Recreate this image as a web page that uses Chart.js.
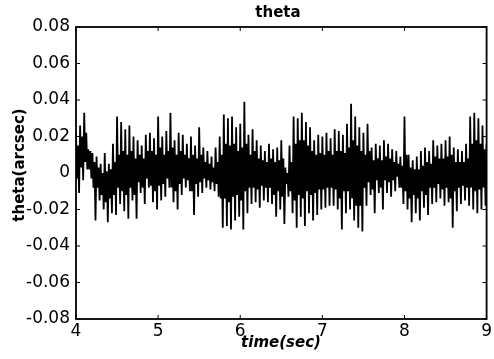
<!DOCTYPE html>
<html>
<head>
<meta charset="utf-8">
<script src="https://cdn.jsdelivr.net/npm/chart.js@4/dist/chart.umd.min.js"></script>
<style>
  body { margin: 0; background: #fff; }
  canvas { display: block; }
</style>
</head>
<body>
<canvas id="thetaChart" width="494" height="359"></canvas>
<script>
// time axis: samples every 0.05 s from 4 to 9 s
var tStart = 4;
var tStep = 0.05;
// outer swing of theta (arcsec) in each 0.05 s slot
var thetaHigh = [
  0.022, 0.026, 0.033, 0.013, 0.011, 0.009, 0.005, 0.011, 0.005, 0.016,
  0.031, 0.028, 0.024, 0.026, 0.020, 0.018, 0.015, 0.021, 0.022, 0.019,
  0.031, 0.020, 0.023, 0.033, 0.018, 0.022, 0.021, 0.016, 0.020, 0.015,
  0.025, 0.014, 0.012, 0.009, 0.014, 0.020, 0.032, 0.030, 0.031, 0.025,
  0.027, 0.039, 0.021, 0.024, 0.018, 0.015, 0.012, 0.016, 0.013, 0.014,
  0.018, 0.003, 0.015, 0.031, 0.030, 0.033, 0.028, 0.025, 0.018, 0.021,
  0.020, 0.022, 0.019, 0.024, 0.023, 0.021, 0.027, 0.038, 0.031, 0.025,
  0.022, 0.027, 0.014, 0.016, 0.015, 0.018, 0.016, 0.013, 0.012, 0.009,
  0.031, 0.010, 0.007, 0.009, 0.012, 0.014, 0.012, 0.018, 0.015, 0.016,
  0.018, 0.020, 0.014, 0.013, 0.012, 0.016, 0.031, 0.033, 0.030, 0.026,
  0.016
];
var thetaLow = [
  -0.011, -0.004, 0.002, -0.003, -0.026, -0.015, -0.020, -0.027, -0.022, -0.023,
  -0.017, -0.021, -0.025, -0.015, -0.025, -0.011, -0.017, -0.008, -0.016, -0.020,
  -0.015, -0.013, -0.008, -0.016, -0.020, -0.012, -0.008, -0.010, -0.023, -0.013,
  -0.011, -0.008, -0.009, -0.010, -0.013, -0.030, -0.029, -0.031, -0.026, -0.024,
  -0.031, -0.022, -0.017, -0.016, -0.019, -0.015, -0.016, -0.017, -0.024, -0.020,
  -0.028, -0.013, -0.022, -0.030, -0.024, -0.029, -0.022, -0.026, -0.023, -0.020,
  -0.019, -0.018, -0.018, -0.020, -0.031, -0.022, -0.020, -0.026, -0.030, -0.032,
  -0.018, -0.012, -0.022, -0.011, -0.020, -0.011, -0.013, -0.010, -0.008, -0.017,
  -0.020, -0.027, -0.022, -0.026, -0.019, -0.023, -0.017, -0.016, -0.014, -0.018,
  -0.016, -0.030, -0.021, -0.017, -0.015, -0.018, -0.020, -0.022, -0.020, -0.018,
  -0.026
];
// edges of the dense black core in each slot
var coreHigh = [
  0.015, 0.020, 0.022, 0.012, 0.006, 0.003, 0.000, 0.001, 0.002, 0.006,
  0.010, 0.012, 0.010, 0.012, 0.008, 0.010, 0.008, 0.012, 0.012, 0.010,
  0.014, 0.010, 0.012, 0.014, 0.010, 0.012, 0.010, 0.008, 0.010, 0.008,
  0.010, 0.006, 0.005, 0.003, 0.006, 0.010, 0.016, 0.015, 0.016, 0.012,
  0.014, 0.016, 0.010, 0.012, 0.008, 0.007, 0.006, 0.008, 0.006, 0.007,
  0.008, 0.000, 0.006, 0.016, 0.018, 0.018, 0.015, 0.012, 0.010, 0.011,
  0.010, 0.012, 0.010, 0.012, 0.012, 0.011, 0.014, 0.018, 0.015, 0.012,
  0.010, 0.012, 0.007, 0.008, 0.007, 0.009, 0.008, 0.006, 0.005, 0.004,
  0.010, 0.003, 0.002, 0.002, 0.004, 0.006, 0.005, 0.009, 0.008, 0.008,
  0.009, 0.010, 0.006, 0.006, 0.006, 0.008, 0.016, 0.018, 0.016, 0.013,
  0.008
];
var coreLow = [
  -0.003, 0.003, 0.006, 0.002, -0.008, -0.008, -0.012, -0.016, -0.014, -0.012,
  -0.008, -0.010, -0.012, -0.008, -0.012, -0.005, -0.008, -0.003, -0.007, -0.010,
  -0.007, -0.006, -0.003, -0.008, -0.010, -0.006, -0.003, -0.004, -0.010, -0.006,
  -0.005, -0.003, -0.004, -0.005, -0.006, -0.014, -0.014, -0.016, -0.013, -0.012,
  -0.015, -0.010, -0.008, -0.008, -0.009, -0.007, -0.008, -0.008, -0.012, -0.010,
  -0.013, -0.006, -0.010, -0.015, -0.012, -0.014, -0.010, -0.012, -0.011, -0.009,
  -0.009, -0.008, -0.008, -0.009, -0.014, -0.010, -0.010, -0.014, -0.018, -0.018,
  -0.008, -0.005, -0.009, -0.004, -0.008, -0.004, -0.005, -0.004, -0.002, -0.008,
  -0.010, -0.014, -0.012, -0.014, -0.010, -0.012, -0.008, -0.008, -0.006, -0.009,
  -0.008, -0.014, -0.010, -0.008, -0.007, -0.008, -0.008, -0.010, -0.009, -0.008,
  -0.012
];
var xTicks = [4, 5, 6, 7, 8, 9];
var yTicks = [-0.08, -0.06, -0.04, -0.02, 0, 0.02, 0.04, 0.06, 0.08];

var pts = [];
for (var i = 0; i < thetaHigh.length; i++) {
  var t = tStart + i * tStep;
  var q = tStep / 4;
  pts.push({x: t, y: thetaHigh[i]});
  if (t + q > 9.0001) break;
  pts.push({x: t + q, y: coreLow[i]});
  pts.push({x: t + 2 * q, y: coreHigh[i]});
  pts.push({x: t + 3 * q, y: thetaLow[i]});
}

// matlab style box, inward ticks and texts
var matlabFrame = {
  id: 'matlabFrame',
  afterDraw: function(chart) {
    var ctx = chart.ctx, a = chart.chartArea;
    var xs = chart.scales.x, ys = chart.scales.y;
    ctx.save();
    ctx.strokeStyle = '#000';
    ctx.lineWidth = 1.8;
    ctx.strokeRect(a.left, a.top, a.right - a.left, a.bottom - a.top);
    ctx.lineWidth = 1;
    ctx.beginPath();
    xTicks.forEach(function(v) {
      var px = xs.getPixelForValue(v);
      ctx.moveTo(px, a.bottom); ctx.lineTo(px, a.bottom - 4);
      ctx.moveTo(px, a.top); ctx.lineTo(px, a.top + 4);
    });
    yTicks.forEach(function(v) {
      var py = ys.getPixelForValue(v);
      ctx.moveTo(a.left, py); ctx.lineTo(a.left + 4, py);
      ctx.moveTo(a.right, py); ctx.lineTo(a.right - 4, py);
    });
    ctx.stroke();

    ctx.fillStyle = '#000';
    ctx.textAlign = 'center';
    ctx.textBaseline = 'middle';
    ctx.font = 'bold 15px "DejaVu Sans"';
    ctx.fillText('theta', 278, 13);
    ctx.font = 'italic bold 15px "DejaVu Sans"';
    ctx.fillText('time(sec)', 281, 343);
    ctx.translate(20, 165);
    ctx.rotate(-Math.PI / 2);
    ctx.font = 'bold 15px "DejaVu Sans"';
    ctx.fillText('theta(arcsec)', 0, 0);
    ctx.restore();
  }
};

new Chart(document.getElementById('thetaChart'), {
  type: 'line',
  data: {
    datasets: [{
      data: pts,
      borderColor: '#000',
      borderWidth: 1.8,
      pointRadius: 0,
      tension: 0,
      fill: false
    }]
  },
  options: {
    responsive: false,
    animation: false,
    layout: { padding: { top: 27, right: 5, left: 0, bottom: 0 } },
    plugins: { legend: { display: false }, tooltip: { enabled: false }, title: { display: false } },
    scales: {
      x: {
        type: 'linear',
        min: 4, max: 9,
        afterFit: function(s) { s.height = 40; },
        afterBuildTicks: function(s) { s.ticks = xTicks.map(function(v) { return {value: v}; }); },
        grid: { display: false, drawTicks: false },
        border: { display: false },
        ticks: { color: '#000', padding: 2, maxRotation: 0, font: { family: 'DejaVu Sans', size: 17 } }
      },
      y: {
        type: 'linear',
        min: -0.08, max: 0.08,
        afterFit: function(s) { s.width = 76; },
        afterBuildTicks: function(s) { s.ticks = yTicks.map(function(v) { return {value: v}; }); },
        grid: { display: false, drawTicks: false },
        border: { display: false },
        ticks: {
          color: '#000', padding: 6,
          font: { family: 'DejaVu Sans', size: 17 },
          callback: function(v) { return Math.abs(v) < 1e-9 ? '0' : v.toFixed(2); }
        }
      }
    }
  },
  plugins: [matlabFrame]
});
</script>
</body>
</html>
